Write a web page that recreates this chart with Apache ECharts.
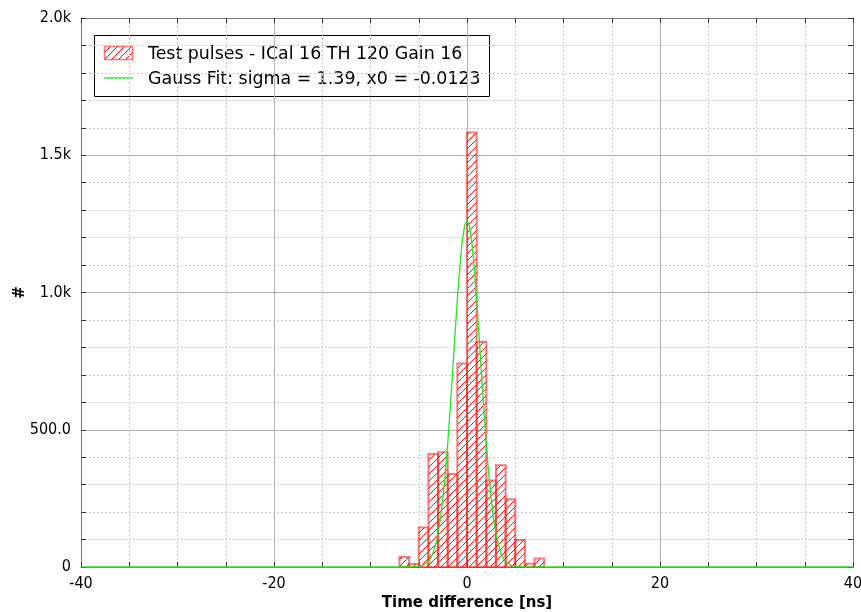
<!DOCTYPE html>
<html>
<head>
<meta charset="utf-8">
<script src="https://cdn.jsdelivr.net/npm/echarts@6/dist/echarts.min.js"></script>
<style>
  html, body { margin: 0; padding: 0; background: #fff; }
  #chart { width: 861px; height: 612px; }
</style>
</head>
<body>
<div id="chart"></div>
<script>
// Histogram of time differences: lower bin edges [ns] and counts per bin
const binStarts = [-7, -6, -5, -4, -3, -2, -1, 0, 1, 2, 3, 4, 5, 6, 7];
const binWidth = 1;
const counts = [36, 11, 144, 412, 418, 339, 741, 1583, 820, 315, 371, 247, 98, 12, 31];

// Gaussian fit curve samples (x [ns], y)
const fitX = [-40, -6, -5, -4.5, -4, -3.75, -3.5, -3.25, -3, -2.75, -2.5, -2.25, -2, -1.75, -1.5, -1.25, -1, -0.75, -0.5, -0.25,
  0, 0.25, 0.5, 0.75, 1, 1.25, 1.5, 1.75, 2, 2.25, 2.5, 2.75, 3, 3.25, 3.5, 3.75, 4, 4.5, 5, 6, 40];
const fitY = [0, 0, 2, 7, 20, 33, 53, 82, 123, 178, 251, 341, 449, 572, 705, 843, 975, 1092, 1184, 1243,
  1263, 1243, 1184, 1092, 975, 843, 705, 572, 449, 341, 251, 178, 123, 82, 53, 33, 20, 7, 2, 0, 0];

// Axis ranges and tick labels
const xRange = [-40, 40];
const xStep = 20;
const yRange = [0, 2000];
const yStep = 500;
const yTickLabels = { 0: '0', 500: '500.0', 1000: '1.0k', 1500: '1.5k', 2000: '2.0k' };

const histName = 'Test pulses - ICal 16 TH 120 Gain 16';
const fitName = 'Gauss Fit: sigma = 1.39, x0 = -0.0123';
const xTitle = 'Time difference [ns]';
const yTitle = '#';

const FONT = "'DejaVu Sans', Verdana, sans-serif";
const TICK_FONT = "'DejaVu Sans Condensed', 'DejaVu Sans', sans-serif";

// diagonal red hatching used to fill the histogram bars
function makeHatch() {
  const n = 7;
  const c = document.createElement('canvas');
  c.width = n; c.height = n;
  const g = c.getContext('2d');
  g.strokeStyle = 'rgba(255,0,0,0.95)';
  g.lineWidth = 1;
  g.beginPath();
  g.moveTo(0, n); g.lineTo(n, 0);
  g.moveTo(-1, 1); g.lineTo(1, -1);
  g.moveTo(n - 1, n + 1); g.lineTo(n + 1, n - 1);
  g.stroke();
  return c;
}
const hatch = { image: makeHatch(), repeat: 'repeat' };
const barStroke = 'rgba(255,30,30,0.6)';
const fitColor = '#22e622';

const histData = binStarts.map((s, i) => [s, s + binWidth, counts[i]]);
const fitData = fitX.map((x, i) => [x, fitY[i]]);

const axisLineStyle = { color: '#7a7a7a', width: 1 };
const tickStyle = { color: '#333', width: 1 };

const chart = echarts.init(document.getElementById('chart'), null, { renderer: 'canvas' });

chart.setOption({
  animation: false,
  backgroundColor: '#fff',
  grid: { left: 81, right: 8, top: 18, bottom: 45, containLabel: false, outerBoundsMode: 'none' },
  xAxis: [
    {
      type: 'value', min: xRange[0], max: xRange[1], interval: xStep, position: 'bottom',
      axisLine: { show: true, onZero: false, lineStyle: axisLineStyle },
      axisTick: { show: true, inside: true, length: 5, lineStyle: tickStyle },
      minorTick: { show: true, splitNumber: 4, length: 5, lineStyle: tickStyle },
      splitLine: { show: true, lineStyle: { color: '#b0b0b0', width: 1 } },
      minorSplitLine: { show: true, lineStyle: { color: '#c8c8c8', width: 1, type: [2, 2] } },
      axisLabel: { fontSize: 16, color: '#000', fontFamily: TICK_FONT, margin: 9, hideOverlap: false },
      name: xTitle, nameLocation: 'middle', nameGap: 29, nameMoveOverlap: false,
      nameTextStyle: { fontSize: 15, fontWeight: 'bold', color: '#000', fontFamily: FONT }
    },
    {
      type: 'value', min: xRange[0], max: xRange[1], interval: xStep, position: 'top',
      axisLine: { show: true, onZero: false, lineStyle: axisLineStyle },
      axisTick: { show: true, inside: true, length: 5, lineStyle: tickStyle },
      minorTick: { show: true, splitNumber: 4, length: 5, lineStyle: tickStyle },
      splitLine: { show: false }, axisLabel: { show: false }
    }
  ],
  yAxis: [
    {
      type: 'value', min: yRange[0], max: yRange[1], interval: yStep, position: 'left',
      axisLine: { show: true, onZero: false, lineStyle: axisLineStyle },
      axisTick: { show: true, inside: true, length: 5, lineStyle: tickStyle },
      minorTick: { show: true, splitNumber: 5, length: 5, lineStyle: tickStyle },
      splitLine: { show: true, lineStyle: { color: '#b0b0b0', width: 1 } },
      minorSplitLine: { show: true, lineStyle: { color: '#c8c8c8', width: 1, type: [2, 2] } },
      axisLabel: {
        fontSize: 16, color: '#000', fontFamily: TICK_FONT, margin: 10,
        formatter: v => (yTickLabels[v] !== undefined ? yTickLabels[v] : String(v))
      },
      name: yTitle, nameLocation: 'middle', nameGap: 53, nameRotate: 90, nameMoveOverlap: false,
      nameTextStyle: { fontSize: 15, fontWeight: 'bold', color: '#000', fontFamily: FONT }
    },
    {
      type: 'value', min: yRange[0], max: yRange[1], interval: yStep, position: 'right',
      axisLine: { show: true, onZero: false, lineStyle: axisLineStyle },
      axisTick: { show: true, inside: true, length: 5, lineStyle: tickStyle },
      minorTick: { show: true, splitNumber: 5, length: 5, lineStyle: tickStyle },
      splitLine: { show: false }, axisLabel: { show: false }
    }
  ],
  series: [
    {
      name: histName,
      type: 'custom',
      xAxisIndex: 0, yAxisIndex: 0,
      encode: { x: [0, 1], y: 2 },
      data: histData,
      renderItem: function (params, api) {
        const p0 = api.coord([api.value(0), 0]);
        const p1 = api.coord([api.value(1), api.value(2)]);
        return {
          type: 'rect',
          shape: { x: p0[0], y: p1[1], width: p1[0] - p0[0], height: p0[1] - p1[1] },
          style: { fill: hatch, stroke: barStroke, lineWidth: 2 }
        };
      },
      z: 3
    },
    {
      name: fitName,
      type: 'line',
      xAxisIndex: 0, yAxisIndex: 0,
      data: fitData,
      showSymbol: false, symbol: 'none',
      smooth: false,
      lineStyle: { color: fitColor, width: 1.3 },
      z: 4
    }
  ],
  graphic: [
    {
      type: 'group', left: 94, top: 35, z: 100,
      children: [
        { type: 'rect', shape: { x: 0.5, y: 0.5, width: 395, height: 61 },
          style: { fill: '#fff', stroke: '#000', lineWidth: 1 } },
        { type: 'rect', shape: { x: 10.5, y: 11.5, width: 28, height: 13 },
          style: { fill: hatch, stroke: barStroke, lineWidth: 1.5 } },
        { type: 'line', shape: { x1: 10, y1: 43, x2: 39, y2: 43 },
          style: { stroke: fitColor, lineWidth: 1.3 } },
        { type: 'text', x: 54, y: 19,
          style: { text: histName, fill: '#000', font: '17.4px ' + FONT, verticalAlign: 'middle' } },
        { type: 'text', x: 54, y: 44,
          style: { text: fitName, fill: '#000', font: '17.4px ' + FONT, verticalAlign: 'middle' } }
      ]
    }
  ]
});
</script>
</body>
</html>
